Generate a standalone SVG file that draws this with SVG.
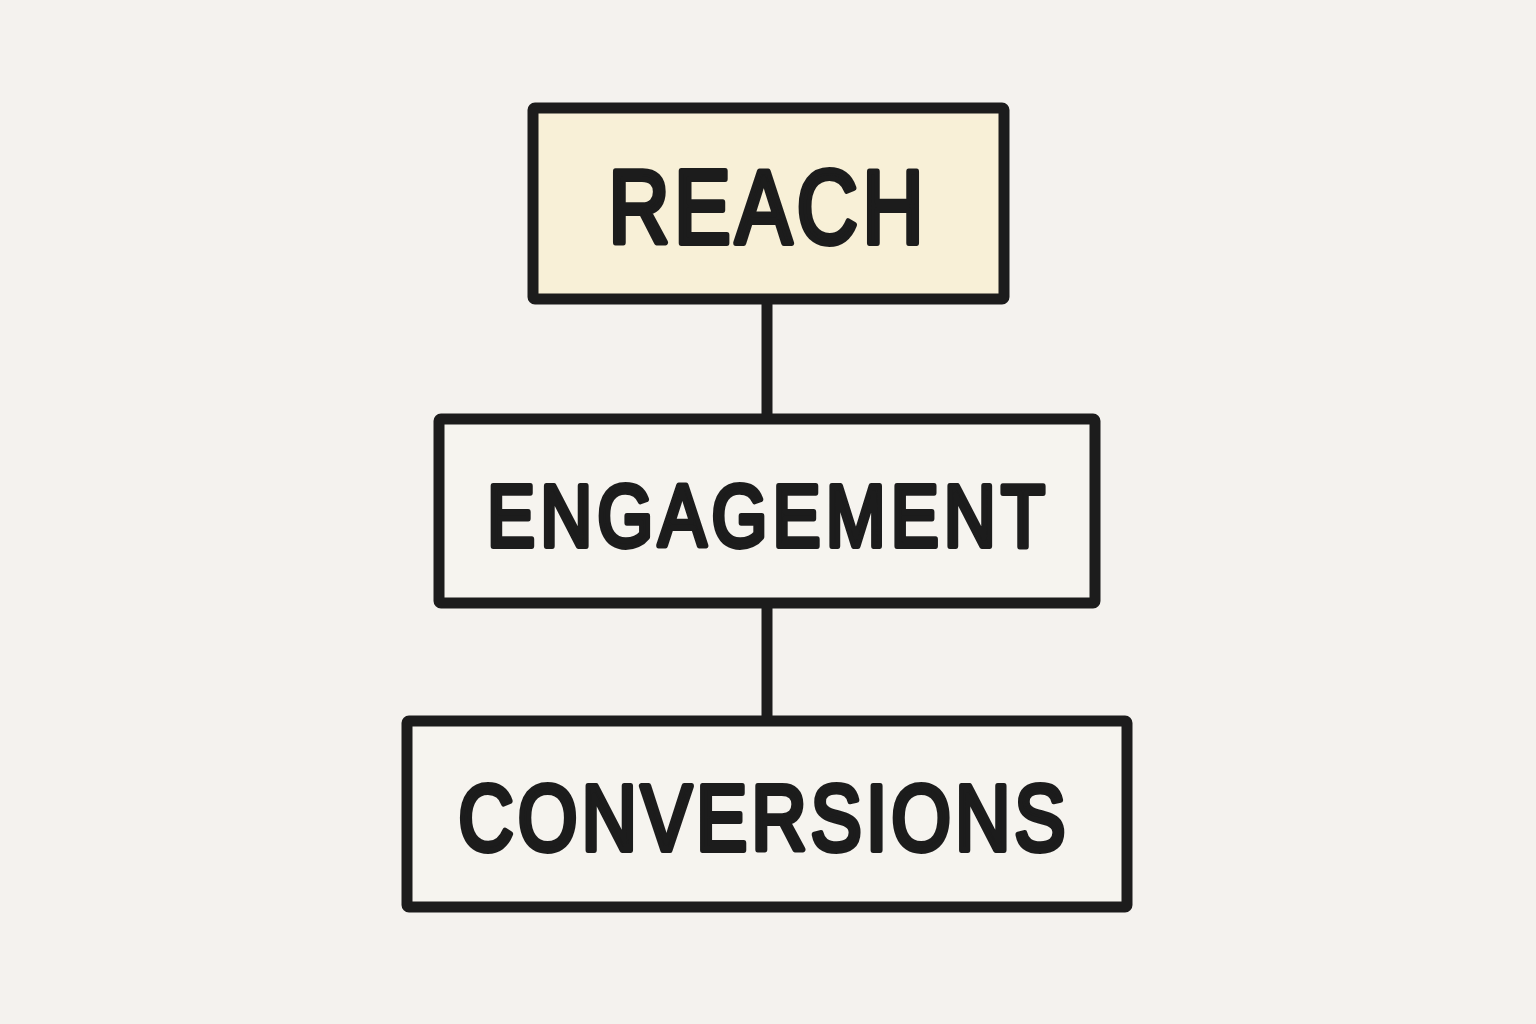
<svg xmlns="http://www.w3.org/2000/svg" width="1536" height="1024" viewBox="0 0 1536 1024">
  <style>
    .box { fill: #f6f4ef; stroke: #1c1c1c; stroke-width: 11; stroke-linejoin: round; }
    .hl { fill: #f8f0d7; }
    .lbl { font-family: "Liberation Sans", "DejaVu Sans", sans-serif; font-weight: normal; fill: #1c1c1c; stroke: #1c1c1c; stroke-width: 6; stroke-linejoin: round; stroke-linecap: round; text-anchor: middle; }
    .conn { stroke: #1c1c1c; stroke-width: 11; fill: none; }
  </style>
  <rect width="1536" height="1024" fill="#f4f2ee"/>
  <g id="connectors">
    <line class="conn" x1="767" y1="299" x2="767" y2="419"/>
    <line class="conn" x1="767" y1="603" x2="767" y2="721"/>
  </g>
  <g id="reach">
    <rect class="box hl" x="533" y="108" width="471" height="191" rx="2"/>
    <text class="lbl" transform="translate(766 0) scale(0.82 1)" x="0" y="243" font-size="103" textLength="384" lengthAdjust="spacing">REACH</text>
  </g>
  <g id="engagement">
    <rect class="box" x="439" y="419" width="656" height="184" rx="2"/>
    <text class="lbl" transform="translate(766 0) scale(0.82 1)" x="0" y="546" font-size="87" textLength="680" lengthAdjust="spacing">ENGAGEMENT</text>
  </g>
  <g id="conversions">
    <rect class="box" x="407" y="721" width="720" height="186" rx="2"/>
    <text class="lbl" transform="translate(762 0) scale(0.82 1)" x="0" y="850" font-size="93" textLength="740" lengthAdjust="spacing">CONVERSIONS</text>
  </g>
</svg>
